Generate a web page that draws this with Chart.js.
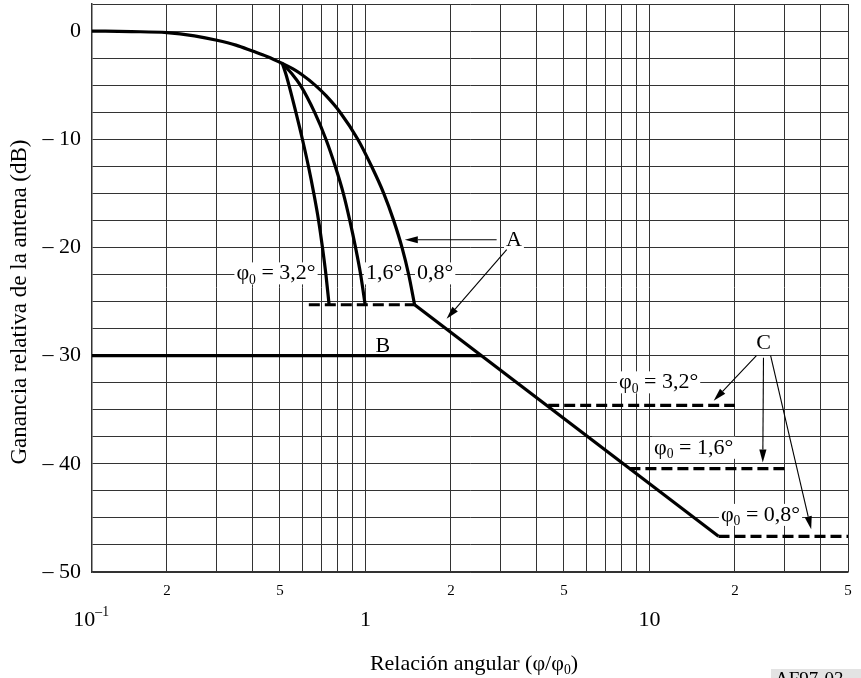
<!DOCTYPE html>
<html><head><meta charset="utf-8">
<script src="https://cdn.jsdelivr.net/npm/chart.js@4.4.1/dist/chart.umd.min.js"></script>
<style>html,body{margin:0;padding:0;background:#fff;}canvas{display:block;}</style>
</head><body>
<canvas id="c" width="861" height="678"></canvas>
<script>
// ---- data ----
const envelopeX = [0.109, 0.15, 0.2, 0.25, 0.3, 0.35, 0.4, 0.45, 0.51, 0.556, 0.595, 0.665, 0.728, 0.814, 0.94, 1.051, 1.16, 1.257, 1.345, 1.42, 1.49];
const envelopeY = [0, -0.05, -0.15, -0.45, -0.85, -1.3, -1.85, -2.35, -3.0, -3.5, -4, -5, -6, -7.5, -10, -12.5, -15, -17.5, -20, -22.5, -25.3];
const curve16X = [0.51, 0.553, 0.59, 0.662, 0.726, 0.783, 0.836, 0.881, 0.923, 0.962, 0.998];
const curve16Y = [-3.0, -4.0, -5, -7.5, -10, -12.5, -15, -17.5, -20, -22.5, -25.3];
const curve32X = [0.51, 0.525, 0.538, 0.569, 0.6, 0.63, 0.658, 0.684, 0.706, 0.726, 0.745];
const curve32Y = [-3.0, -4.0, -5, -7.5, -10, -12.5, -15, -17.5, -20, -22.5, -25.3];
const floorAX = [0.632, 1.49];
const floorAY = [-25.3, -25.3];
const slopeX = [1.49, 17.5];
const slopeY = [-25.3, -46.7];
const lineBX = [0.109, 2.56];
const lineBY = [-30, -30];
const floorC32X = [4.4, 20];
const floorC32Y = [-34.6, -34.6];
const floorC16X = [8.5, 30];
const floorC16Y = [-40.45, -40.45];
const floorC08X = [17.5, 50];
const floorC08Y = [-46.7, -46.7];
const xGridValues = [0.2,0.3,0.4,0.5,0.6,0.7,0.8,0.9,1,2,3,4,5,6,7,8,9,10,20,30,40,50];
const xMinorLabelValues = [0.2, 0.5, 2, 5, 20, 50];
const xMinorLabelTexts = ['2', '5', '2', '5', '2', '5'];
const decadeValues = [0.1, 1, 10];
const decadeBases = ['10', '1', '10'];
const decadeExps = ['–1', '', ''];
const yLabelValues = [0, -10, -20, -30, -40, -50];
const yLabelTexts = ['0', '– 10', '– 20', '– 30', '– 40', '– 50'];
const yTitle = 'Ganancia relativa de la antena (dB)';

// ---- annotations (data coordinates) ----
const labels = [
  {x: 0.4845, y: -22.4, parts: [['φ'], ['0', 'sub'], [' = 3,2°']]},
  {x: 1.163, y: -22.4, parts: [['1,6°']]},
  {x: 1.76, y: -22.4, parts: [['0,8°']]},
  {x: 3.334, y: -19.3, parts: [['A']]},
  {x: 1.151, y: -29.1, parts: [['B']]},
  {x: 25.2, y: -28.9, parts: [['C']]},
  {x: 10.77, y: -32.47, parts: [['φ'], ['0', 'sub'], [' = 3,2°']]},
  {x: 14.31, y: -38.52, parts: [['φ'], ['0', 'sub'], [' = 1,6°']]},
  {x: 24.6, y: -44.72, parts: [['φ'], ['0', 'sub'], [' = 0,8°']]}
];
const arrows = [
  {from: [2.897, -19.29], to: [1.376, -19.29]},
  {from: [3.144, -20.21], to: [1.931, -26.6]},
  {from: [23.8, -30.0], to: [16.83, -34.17]},
  {from: [25.2, -30.2], to: [25.06, -39.88]},
  {from: [26.7, -30.0], to: [37.1, -46.05]}
];

const SERIF = '"Liberation Serif", "Times New Roman", serif';
const FS = 22;
function fnt(s) { return s + 'px ' + SERIF; }

function pts(xs, ys) { return xs.map((x, i) => ({x: x, y: ys[i]})); }
function solid(xs, ys, smooth) {
  return {data: pts(xs, ys), borderColor: '#000', borderWidth: 3.2, pointRadius: 0, showLine: true,
          fill: false, cubicInterpolationMode: smooth ? 'monotone' : 'default', borderCapStyle: 'butt', borderJoinStyle: 'round'};
}
function dashed(xs, ys) {
  const d = solid(xs, ys, false); d.borderDash = [11, 5]; return d;
}

function partsWidth(ctx, parts, size) {
  let w = 0;
  for (const p of parts) { ctx.font = fnt(p[1] ? size * 0.62 : size); w += ctx.measureText(p[0]).width; }
  return w;
}
function drawParts(ctx, parts, x, cy, size) {
  ctx.textBaseline = 'middle'; ctx.textAlign = 'left'; ctx.fillStyle = '#000';
  for (const p of parts) {
    const s = p[1] ? size * 0.62 : size;
    ctx.font = fnt(s);
    let dy = 0;
    if (p[1] === 'sub') dy = size * 0.3;
    if (p[1] === 'sup') dy = -size * 0.33;
    ctx.fillText(p[0], x, cy + dy);
    x += ctx.measureText(p[0]).width;
  }
}

const decorPlugin = {
  id: 'decor',
  beforeDatasetsDraw(chart) {
    const ctx = chart.ctx, xs = chart.scales.x, ys = chart.scales.y;
    ctx.save();
    for (const L of labels) {
      const cx = xs.getPixelForValue(L.x), cy = ys.getPixelForValue(L.y);
      const w = partsWidth(ctx, L.parts, FS);
      ctx.fillStyle = '#fff';
      ctx.fillRect(cx - w / 2 - 2, cy - FS * 0.5, w + 4, FS);
      drawParts(ctx, L.parts, cx - w / 2, cy, FS);
    }
    ctx.restore();
  },
  afterDatasetsDraw(chart) {
    const ctx = chart.ctx, xs = chart.scales.x, ys = chart.scales.y;
    ctx.save();
    ctx.strokeStyle = '#000'; ctx.fillStyle = '#000'; ctx.lineWidth = 1.1;
    for (const a of arrows) {
      const x1 = xs.getPixelForValue(a.from[0]), y1 = ys.getPixelForValue(a.from[1]);
      const x2 = xs.getPixelForValue(a.to[0]), y2 = ys.getPixelForValue(a.to[1]);
      const ang = Math.atan2(y2 - y1, x2 - x1), len = 13, hw = 3.6;
      const bx = x2 - len * Math.cos(ang), by = y2 - len * Math.sin(ang);
      ctx.beginPath(); ctx.moveTo(x1, y1); ctx.lineTo(bx, by); ctx.stroke();
      ctx.beginPath();
      ctx.moveTo(x2, y2);
      ctx.lineTo(bx + hw * Math.sin(ang), by - hw * Math.cos(ang));
      ctx.lineTo(bx - hw * Math.sin(ang), by + hw * Math.cos(ang));
      ctx.closePath(); ctx.fill();
    }
    // decade labels under the x axis
    const decY = 620;
    for (let i = 0; i < decadeValues.length; i++) {
      const px = xs.getPixelForValue(decadeValues[i]);
      ctx.font = fnt(FS);
      const bw = ctx.measureText(decadeBases[i]).width;
      const parts = [[decadeBases[i]]];
      if (decadeExps[i]) parts.push([decadeExps[i], 'sup']);
      drawParts(ctx, parts, px - bw / 2 + (decadeExps[i] ? 3 : 0), decY, FS);
    }
    // x axis title
    const tParts = [['Relación angular (φ/φ'], ['0', 'sub'], [')']];
    const tw = partsWidth(ctx, tParts, FS);
    drawParts(ctx, tParts, 474 - tw / 2, 664, FS);
    // y axis title
    ctx.save();
    ctx.translate(20, 302);
    ctx.rotate(-Math.PI / 2);
    ctx.font = fnt(23); ctx.textAlign = 'center'; ctx.textBaseline = 'middle'; ctx.fillStyle = '#000';
    ctx.fillText(yTitle, 0, 0);
    ctx.restore();
    // figure reference box
    ctx.fillStyle = '#e3e3e3';
    ctx.fillRect(771, 669, 95, 20);
    ctx.fillStyle = '#000';
    ctx.font = fnt(19); ctx.textBaseline = 'top'; ctx.textAlign = 'left';
    ctx.fillText('AF97-03', 775, 671);
    ctx.restore();
  }
};

new Chart(document.getElementById('c'), {
  type: 'scatter',
  data: {
    datasets: [
      solid(envelopeX, envelopeY, true),
      solid(curve16X, curve16Y, true),
      solid(curve32X, curve32Y, true),
      dashed(floorAX, floorAY),
      solid(slopeX, slopeY, false),
      solid(lineBX, lineBY, false),
      dashed(floorC32X, floorC32Y),
      dashed(floorC16X, floorC16Y),
      dashed(floorC08X, floorC08Y)
    ]
  },
  options: {
    responsive: false,
    animation: false,
    devicePixelRatio: 1,
    layout: {padding: {left: 0, top: 4, right: 13, bottom: 0}},
    plugins: {legend: {display: false}, tooltip: {enabled: false}},
    scales: {
      x: {
        type: 'logarithmic', min: 0.109, max: 50,
        afterBuildTicks(scale) { scale.ticks = xGridValues.map(v => ({value: v})); },
        afterFit(scale) { scale.height = 106; scale.paddingLeft = 0; scale.paddingRight = 0; },
        grid: {color: '#333', lineWidth: 1, drawTicks: false},
        border: {color: '#333', width: 1.5},
        ticks: {
          autoSkip: false, maxRotation: 0, padding: 10, color: '#000',
          font: {family: SERIF, size: 15},
          callback(v) { const i = xMinorLabelValues.findIndex(t => Math.abs(t - v) < 1e-9); return i >= 0 ? xMinorLabelTexts[i] : ''; }
        }
      },
      y: {
        type: 'linear', min: -50, max: 2.5,
        afterFit(scale) { scale.width = 92; scale.paddingTop = 0; scale.paddingBottom = 0; },
        grid: {color: '#333', lineWidth: 1, drawTicks: false},
        border: {color: '#333', width: 1.5},
        ticks: {
          stepSize: 2.5, autoSkip: false, padding: 11, color: '#000',
          font: {family: SERIF, size: FS},
          callback(v) { const i = yLabelValues.findIndex(t => Math.abs(t - v) < 1e-6); return i >= 0 ? yLabelTexts[i] : ''; }
        }
      }
    }
  },
  plugins: [decorPlugin]
});
</script>
</body></html>
